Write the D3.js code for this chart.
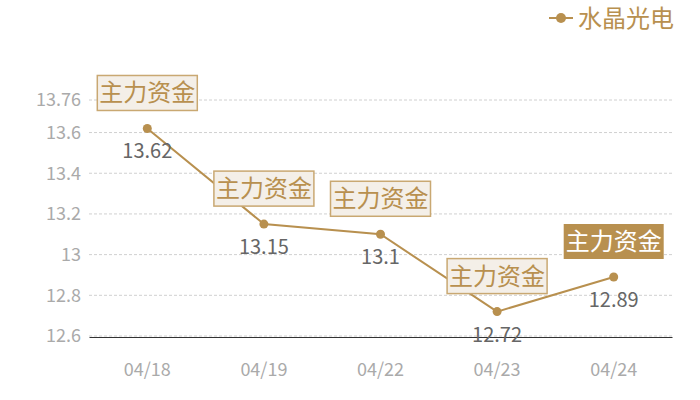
<!DOCTYPE html>
<html>
<head>
<meta charset="utf-8">
<script src="https://cdn.jsdelivr.net/npm/d3@7"></script>
<style>
  body { margin: 0; background: #fff; }
  text { font-family: "Noto Sans CJK SC", "Noto Sans", sans-serif; }
</style>
</head>
<body>
<div id="chart"></div>
<script>
// chart data
const dates = ["04/18", "04/19", "04/22", "04/23", "04/24"];
const prices = [13.62, 13.15, 13.1, 12.72, 12.89];
const yTicks = [12.6, 12.8, 13, 13.2, 13.4, 13.6, 13.76];
const seriesName = "水晶光电";
const flagText = "主力资金";

const width = 700;
const height = 400;
const margin = {left: 89, right: 28, top: 100, bottom: 64};
const gold = "#b8904f";

const svg = d3.select("#chart")
  .append("svg")
  .attr("width", width)
  .attr("height", height);

// scales
const x = d3.scaleBand()
  .domain(dates)
  .range([margin.left, width - margin.right]);

const y = d3.scaleLinear()
  .domain([12.6, 13.76])
  .range([height - margin.bottom, margin.top]);

const cx = d => x(d) + x.bandwidth() / 2;

// dashed grid
svg.append("g")
  .selectAll("line")
  .data(yTicks)
  .enter()
  .append("line")
    .attr("x1", margin.left)
    .attr("x2", width - margin.right)
    .attr("y1", d => y(d))
    .attr("y2", d => y(d))
    .attr("stroke", "#d0d0d0")
    .attr("stroke-dasharray", "3,2");

// y axis labels
const yAxis = svg.append("g")
  .attr("transform", `translate(${margin.left}, 0)`)
  .call(d3.axisLeft(y).tickValues(yTicks).tickSize(0).tickPadding(8).tickFormat(d => d));
yAxis.select(".domain").remove();
yAxis.selectAll("text").attr("fill", "#aaa").attr("font-size", "18px");

// x axis
const xAxis = svg.append("g")
  .attr("transform", `translate(0, ${y(12.6) + 1})`)
  .call(d3.axisBottom(x).tickSize(0).tickPadding(26));
xAxis.select(".domain").attr("stroke", "#333").attr("stroke-width", 1.2);
xAxis.selectAll("text").attr("fill", "#aaa").attr("font-size", "18px");

// line
const line = d3.line()
  .x((d, i) => cx(dates[i]))
  .y(d => y(d));

svg.append("path")
  .datum(prices)
  .attr("fill", "none")
  .attr("stroke", gold)
  .attr("stroke-width", 2)
  .attr("d", line);

svg.selectAll(".dot")
  .data(prices)
  .enter()
  .append("circle")
    .attr("class", "dot")
    .attr("cx", (d, i) => cx(dates[i]))
    .attr("cy", d => y(d))
    .attr("r", 4.5)
    .attr("fill", gold);

// value labels
svg.selectAll(".val")
  .data(prices)
  .enter()
  .append("text")
    .attr("class", "val")
    .attr("x", (d, i) => cx(dates[i]))
    .attr("y", d => y(d) + 30)
    .attr("text-anchor", "middle")
    .attr("font-size", "20px")
    .attr("fill", "#666")
    .text(d => d);

// flag boxes above points
const flags = svg.selectAll(".flag")
  .data(prices)
  .enter()
  .append("g")
    .attr("class", "flag")
    .attr("transform", (d, i) => `translate(${cx(dates[i])}, ${y(d) - 17})`);

flags.append("rect")
  .attr("x", -50)
  .attr("y", -36)
  .attr("width", 100)
  .attr("height", 35)
  .attr("fill", (d, i) => i === prices.length - 1 ? gold : "#f4efe8")
  .attr("stroke", (d, i) => i === prices.length - 1 ? "none" : "#c9a872")
  .attr("stroke-width", 1.5);

flags.append("text")
  .attr("x", 0)
  .attr("y", -10)
  .attr("text-anchor", "middle")
  .attr("font-size", "24px")
  .attr("fill", (d, i) => i === prices.length - 1 ? "#fff" : gold)
  .text(flagText);

// legend
const legend = svg.append("g").attr("transform", "translate(549, 18)");
legend.append("line")
  .attr("x1", 0).attr("x2", 24)
  .attr("stroke", gold).attr("stroke-width", 2);
legend.append("circle")
  .attr("cx", 12).attr("r", 5).attr("fill", gold);
legend.append("text")
  .attr("x", 29).attr("y", 9)
  .attr("font-size", "24px")
  .attr("fill", gold)
  .text(seriesName);
</script>
</body>
</html>
